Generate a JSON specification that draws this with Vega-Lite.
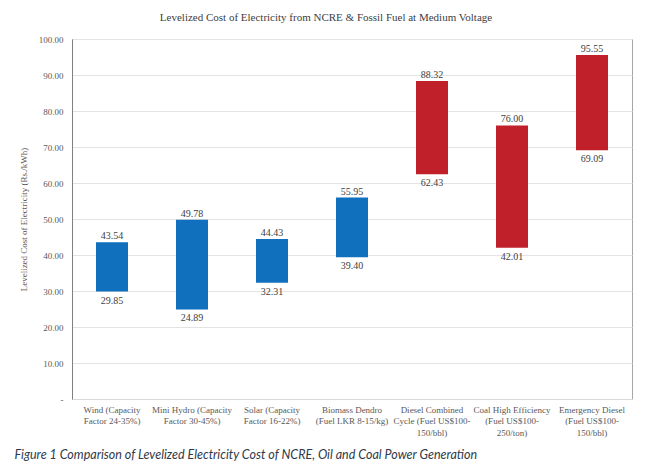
{
  "$schema": "https://vega.github.io/schema/vega-lite/v6.json",
  "width": 560,
  "height": 360,
  "autosize": {"type": "none"},
  "padding": {"left": 72, "top": 39, "right": 19, "bottom": 69},
  "background": "white",
  "title": {
    "text": "Levelized Cost of Electricity from NCRE & Fossil Fuel at Medium Voltage",
    "font": "Liberation Serif",
    "fontSize": 11,
    "fontWeight": "normal",
    "color": "#404040",
    "anchor": "middle",
    "dx": -26,
    "offset": 12
  },
  "data": {
    "values": [
      {"source": "Wind (Capacity|Factor 24-35%)", "low": 29.85, "high": 43.54, "group": "NCRE"},
      {"source": "Mini Hydro (Capacity|Factor 30-45%)", "low": 24.89, "high": 49.78, "group": "NCRE"},
      {"source": "Solar (Capacity|Factor 16-22%)", "low": 32.31, "high": 44.43, "group": "NCRE"},
      {"source": "Biomass Dendro|(Fuel LKR 8-15/kg)", "low": 39.40, "high": 55.95, "group": "NCRE"},
      {"source": "Diesel Combined|Cycle (Fuel  US$100-|150/bbl)", "low": 62.43, "high": 88.32, "group": "Fossil"},
      {"source": "Coal High Efficiency|(Fuel US$100-|250/ton)", "low": 42.01, "high": 76.00, "group": "Fossil"},
      {"source": "Emergency Diesel|(Fuel  US$100-|150/bbl)", "low": 69.09, "high": 95.55, "group": "Fossil"}
    ]
  },
  "config": {
    "view": {"stroke": "#a6a6a6", "strokeWidth": 1},
    "axis": {"labelFont": "Liberation Serif", "titleFont": "Liberation Serif"},
    "text": {"font": "Liberation Serif, serif"}
  },
  "encoding": {
    "x": {
      "field": "source",
      "type": "nominal",
      "sort": null,
      "scale": {"paddingInner": 0.6, "paddingOuter": 0.3},
      "axis": {
        "labelExpr": "split(datum.label, '|')",
        "labelAngle": 0,
        "labelFontSize": 9,
        "labelColor": "#595959",
        "labelLineHeight": 11.5,
        "labelPadding": 6,
        "ticks": false,
        "domainColor": "#d9d9d9",
        "grid": false,
        "title": "Figure 1 Comparison of Levelized Electricity Cost of NCRE, Oil and Coal Power Generation",
        "titleFont": "Lato",
        "titleFontStyle": "italic",
        "titleFontWeight": "normal",
        "titleFontSize": 12.5,
        "titleColor": "#303a4a",
        "titleAlign": "left",
        "titleBaseline": "middle",
        "titleX": -58,
        "titleY": 55
      }
    }
  },
  "layer": [
    {
      "mark": {"type": "bar", "stroke": null},
      "encoding": {
        "y": {
          "field": "low",
          "type": "quantitative",
          "scale": {"domain": [0, 100]},
          "axis": {
            "values": [0, 10, 20, 30, 40, 50, 60, 70, 80, 90, 100],
            "labelExpr": "datum.value == 0 ? '-' : format(datum.value, '.2f')",
            "labelFontSize": 9,
            "labelColor": "#595959",
            "labelPadding": 9,
            "labelOverlap": false,
            "ticks": false,
            "domainColor": "#808080",
            "gridColor": "#e3e3e3",
            "title": "Levelized Cost of Electricity (Rs./kWh)",
            "titleFontSize": 9,
            "titleFontWeight": "normal",
            "titleColor": "#595959",
            "titlePadding": 10
          }
        },
        "y2": {"field": "high"},
        "color": {
          "field": "group",
          "type": "nominal",
          "scale": {"domain": ["NCRE", "Fossil"], "range": ["#1170be", "#c0202a"]},
          "legend": null
        }
      }
    },
    {
      "mark": {"type": "text", "baseline": "bottom", "dy": -1, "font": "Liberation Serif, serif", "fontSize": 10, "color": "#404040"},
      "encoding": {
        "y": {
          "field": "high",
          "type": "quantitative",
          "axis": {
            "values": [0, 10, 20, 30, 40, 50, 60, 70, 80, 90, 100],
            "labelExpr": "datum.value == 0 ? '-' : format(datum.value, '.2f')",
            "labelFontSize": 9,
            "labelColor": "#595959",
            "labelPadding": 9,
            "labelOverlap": false,
            "ticks": false,
            "domainColor": "#808080",
            "gridColor": "#e3e3e3",
            "title": "Levelized Cost of Electricity (Rs./kWh)",
            "titleFontSize": 9,
            "titleFontWeight": "normal",
            "titleColor": "#595959",
            "titlePadding": 10
          }
        },
        "text": {"field": "high", "type": "quantitative", "format": ".2f"}
      }
    },
    {
      "mark": {"type": "text", "baseline": "top", "dy": 4, "font": "Liberation Serif, serif", "fontSize": 10, "color": "#404040"},
      "encoding": {
        "y": {
          "field": "low",
          "type": "quantitative",
          "axis": {
            "values": [0, 10, 20, 30, 40, 50, 60, 70, 80, 90, 100],
            "labelExpr": "datum.value == 0 ? '-' : format(datum.value, '.2f')",
            "labelFontSize": 9,
            "labelColor": "#595959",
            "labelPadding": 9,
            "labelOverlap": false,
            "ticks": false,
            "domainColor": "#808080",
            "gridColor": "#e3e3e3",
            "title": "Levelized Cost of Electricity (Rs./kWh)",
            "titleFontSize": 9,
            "titleFontWeight": "normal",
            "titleColor": "#595959",
            "titlePadding": 10
          }
        },
        "text": {"field": "low", "type": "quantitative", "format": ".2f"}
      }
    }
  ]
}
